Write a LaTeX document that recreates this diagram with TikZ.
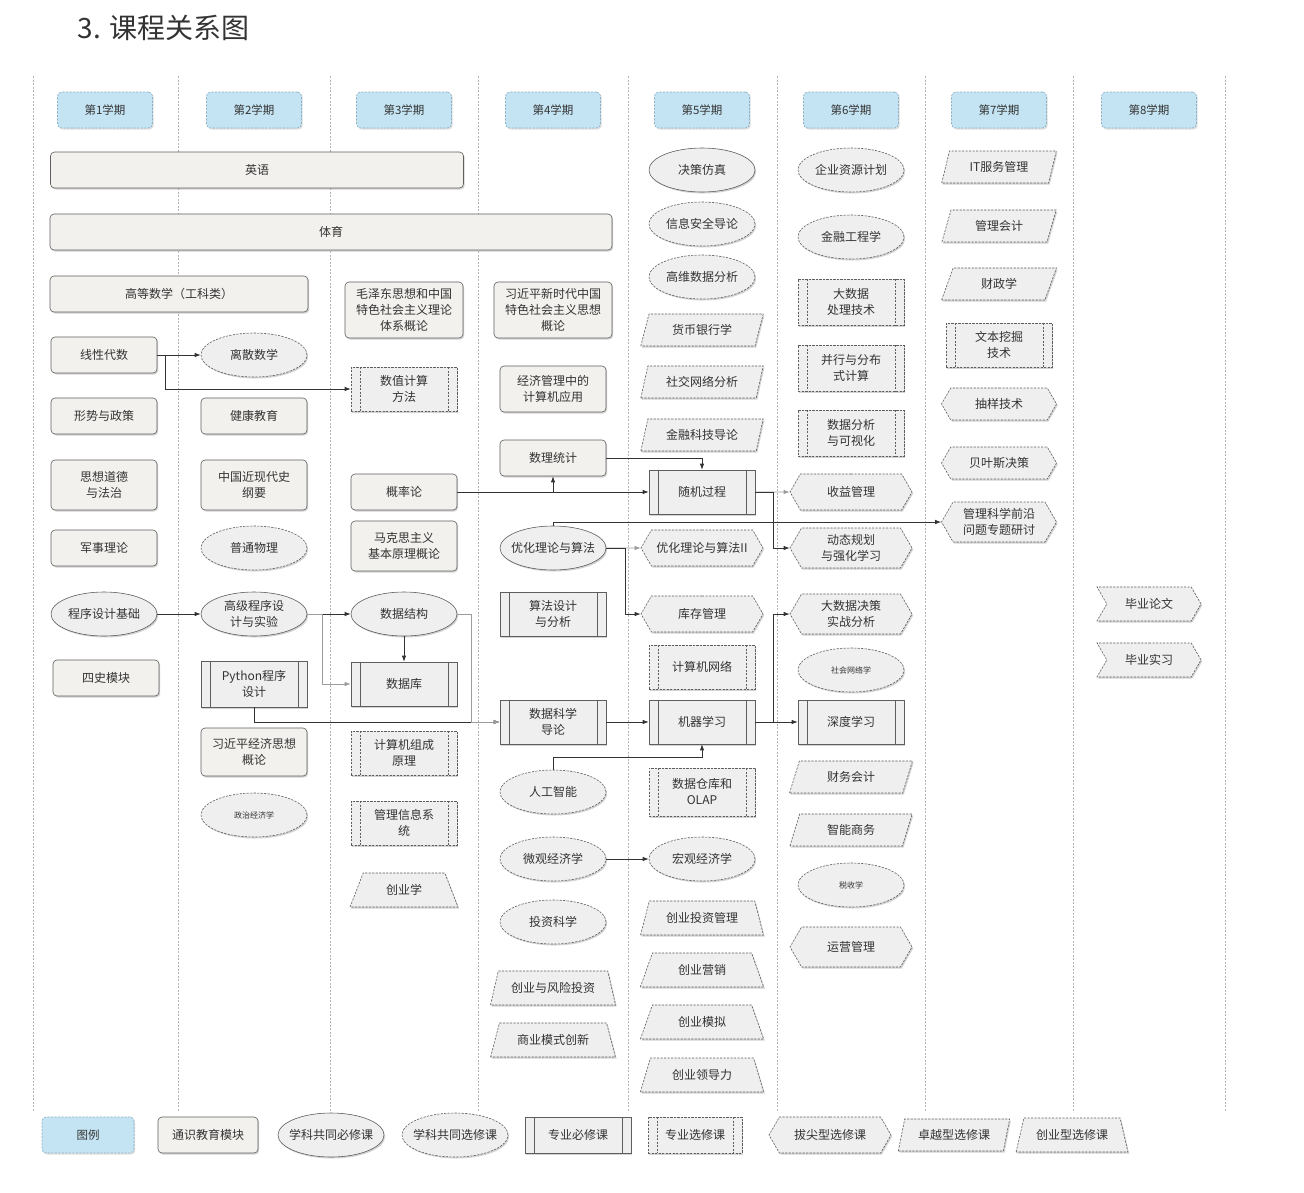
\documentclass[tikz,border=0pt]{standalone}
\usepackage{fontspec}
\setmainfont{Noto Sans CJK SC}
\usepackage{xcolor}
\usetikzlibrary{arrows.meta,shapes.geometric,shapes.symbols,shadows}
\definecolor{ink}{HTML}{333333}
\definecolor{edge}{HTML}{5E5E5E}
\definecolor{boxfill}{HTML}{EFEFEF}
\definecolor{warmfill}{HTML}{F3F1EE}
\definecolor{termblue}{HTML}{C4E4F3}
\definecolor{termedge}{HTML}{8CB0C3}
\definecolor{sepgray}{HTML}{B4B4B4}
\definecolor{softgray}{HTML}{9C9C9C}
\newcommand\boxfont{\fontsize{12}{16}\selectfont}
\newcommand\smallboxfont{\fontsize{8}{10}\selectfont}
\newcommand\headfont{\fontsize{11.5}{14}\selectfont}
\newcommand\titlefont{\fontsize{28}{32}\selectfont}
\newcommand\bars[1]{\draw[draw=edge, line width=0.6pt, #1]
  ([xshift=9pt]path picture bounding box.north west) -- ([xshift=9pt]path picture bounding box.south west)
  ([xshift=-9pt]path picture bounding box.north east) -- ([xshift=-9pt]path picture bounding box.south east);}
\tikzset{
  optline/.style={dash pattern=on 2.2pt off 1.3pt},
  base/.style={draw=edge, line width=0.6pt, fill=boxfill, font=\boxfont, text=ink, align=center,
    drop shadow={shadow xshift=1.2pt, shadow yshift=-1.5pt, fill=black!35}},
  general/.style={base, rounded corners=4pt, fill=warmfill, minimum width=106pt, minimum height=36pt, inner sep=2pt},
  discreq/.style={base, ellipse, minimum width=106pt, minimum height=44pt, inner xsep=-6pt, inner ysep=0pt},
  discopt/.style={discreq, optline},
  majreq/.style={base, rectangle, minimum width=106pt, minimum height=44pt, inner sep=2pt, path picture={\bars{solid}}},
  majopt/.style={majreq, optline, path picture={\bars{optline}}},
  topopt/.style={base, optline, signal, signal to=west and east, signal pointer angle=120,
    minimum width=122pt, minimum height=36pt, inner xsep=2pt, inner ysep=1pt},
  excopt/.style={base, optline, trapezium, trapezium left angle=70, trapezium right angle=110,
    trapezium stretches=true, minimum width=123pt, minimum height=32pt, inner sep=1pt},
  entopt/.style={base, optline, trapezium, trapezium angle=65, trapezium stretches=true,
    minimum width=108pt, minimum height=34pt, inner sep=1pt},
  thesis/.style={base, optline, signal, signal to=east, signal from=west, signal pointer angle=120,
    minimum width=104pt, minimum height=34pt},
  term/.style={rounded corners=4pt, fill=termblue, draw=termedge, optline, line width=0.6pt,
    minimum width=95pt, minimum height=36pt, font=\headfont, text=ink,
    drop shadow={shadow xshift=1.2pt, shadow yshift=-1.5pt, fill=black!25}},
  sepline/.style={draw=sepgray, dash pattern=on 2pt off 1.5pt, line width=0.6pt},
  link/.style={draw=ink, line width=0.8pt, ->},
  soft/.style={draw=softgray, line width=0.8pt, ->}
}
\begin{document}
\begin{tikzpicture}[x=1pt, y=-1pt, >={Latex[length=6pt,width=4.5pt]}]
\useasboundingbox (0,0) rectangle (1304,1192);
\node[anchor=west, font=\titlefont, text=ink] (title) at (74,28) {3. 课程关系图};
\foreach \x in {33,178,330,478,628,777,925,1073,1225}
  \draw[sepline] (\x,76) -- (\x,1112);
\foreach \n/\x in {1/105,2/254,3/404,4/553,5/702,6/851,7/999,8/1149}
  \node[term] (sem\n) at (\x,110) {第\n 学期};
% 1
\node[general, minimum width=413pt] (eng) at (257,170) {英语};
\node[general, minimum width=562pt] (pe) at (331,232) {体育};
\node[general, minimum width=258pt] (calc) at (179,294) {高等数学（工科类）};
\node[general] (linalg) at (104,355) {线性代数};
\node[general] (policy) at (104,416) {形势与政策};
\node[general, minimum height=50pt] (ethics) at (104,485) {思想道德\\与法治};
\node[general] (military) at (104,548) {军事理论};
\node[discreq] (progbase) at (104,614) {程序设计基础};
\node[general] (history4) at (106,678) {四史模块};
% 2
\node[discopt] (discrete) at (254,355) {离散数学};
\node[general] (health) at (254,416) {健康教育};
\node[general, minimum height=50pt] (modhist) at (254,485) {中国近现代史\\纲要};
\node[discopt] (physics) at (254,548) {普通物理};
\node[discreq] (advprog) at (254,614) {高级程序设\\计与实验};
\node[majreq, minimum height=46pt] (python) at (254,684) {Python程序\\设计};
\node[general, minimum height=48pt] (xiecon) at (254,752) {习近平经济思想\\概论};
\node[discopt, font=\smallboxfont] (poliecon) at (254,815) {政治经济学};
% 3
\node[general, minimum width=118pt, minimum height=56pt] (maoism) at (404,310) {毛泽东思想和中国\\特色社会主义理论\\体系概论};
\node[majopt] (numcomp) at (404,389) {数值计算\\方法};
\node[general] (prob) at (404,492) {概率论};
\node[general, minimum height=50pt] (marx) at (404,546) {马克思主义\\基本原理概论};
\node[discreq] (datastruct) at (404,614) {数据结构};
\node[majreq] (database) at (404,684) {数据库};
\node[majopt] (organ) at (404,753) {计算机组成\\原理};
\node[majopt] (mis) at (404,823) {管理信息系\\统};
\node[entopt] (startup) at (404,890) {创业学};
% 4
\node[general, minimum width=118pt, minimum height=56pt] (xithought) at (553,310) {习近平新时代中国\\特色社会主义思想\\概论};
\node[general, minimum height=46pt] (compapp) at (553,389) {经济管理中的\\计算机应用};
\node[general] (mstat) at (553,458) {数理统计};
\node[discreq] (opt) at (553,548) {优化理论与算法};
\node[majreq] (algo) at (553,614) {算法设计\\与分析};
\node[majreq] (dsintro) at (553,722) {数据科学\\导论};
\node[discopt] (ai) at (553,792) {人工智能};
\node[discopt] (micro) at (553,859) {微观经济学};
\node[discopt] (invest) at (553,922) {投资科学};
\node[entopt, minimum width=126pt] (venture) at (553,988) {创业与风险投资};
\node[entopt, minimum width=126pt] (bizmodel) at (553,1040) {商业模式创新};
% 5
\node[discreq] (decsim) at (702,170) {决策仿真};
\node[discopt] (infosec) at (702,224) {信息安全导论};
\node[discopt] (hidim) at (702,277) {高维数据分析};
\node[excopt] (banking) at (702,330) {货币银行学};
\node[excopt] (social) at (702,382) {社交网络分析};
\node[excopt] (fintech) at (702,435) {金融科技导论};
\node[majreq] (stoch) at (702,492) {随机过程};
\node[topopt] (opt2) at (702,548) {优化理论与算法II};
\node[topopt] (inventory) at (702,614) {库存管理};
\node[majopt] (network) at (702,667) {计算机网络};
\node[majreq] (ml) at (702,722) {机器学习};
\node[majopt, minimum height=48pt] (dwh) at (702,792) {数据仓库和\\OLAP};
\node[discopt] (macro) at (702,859) {宏观经济学};
\node[entopt, minimum width=124pt] (vcmgmt) at (702,918) {创业投资管理};
\node[entopt, minimum width=124pt] (entmkt) at (702,970) {创业营销};
\node[entopt, minimum width=124pt] (entsim) at (702,1022) {创业模拟};
\node[entopt, minimum width=124pt] (entlead) at (702,1075) {创业领导力};
% 6
\node[discopt] (erp) at (851,170) {企业资源计划};
\node[discopt] (fineng) at (851,237) {金融工程学};
\node[majopt, minimum height=46pt] (bigdata) at (851,302) {大数据\\处理技术};
\node[majopt, minimum height=46pt] (parallel) at (851,368) {并行与分布\\式计算};
\node[majopt, minimum height=46pt] (visual) at (851,433) {数据分析\\与可视化};
\node[topopt] (revenue) at (851,492) {收益管理};
\node[topopt, minimum height=40pt] (dynprog) at (851,548) {动态规划\\与强化学习};
\node[topopt, minimum height=40pt] (bigdec) at (851,614) {大数据决策\\实战分析};
\node[discopt, font=\smallboxfont] (socnet) at (851,670) {社会网络学};
\node[majreq] (deep) at (851,722) {深度学习};
\node[excopt] (finacc) at (851,777) {财务会计};
\node[excopt] (smartbiz) at (851,830) {智能商务};
\node[discopt, font=\smallboxfont] (tax) at (851,885) {税收学};
\node[topopt, minimum height=40pt] (operation) at (851,947) {运营管理};
% 7
\node[excopt, minimum width=115pt] (itsm) at (999,167) {IT服务管理};
\node[excopt, minimum width=115pt] (mgmtacc) at (999,226) {管理会计};
\node[excopt, minimum width=115pt] (pubfin) at (999,284) {财政学};
\node[majopt] (textmine) at (999,345) {文本挖掘\\技术};
\node[topopt, minimum width=115pt, minimum height=32pt] (sampling) at (999,404) {抽样技术};
\node[topopt, minimum width=115pt, minimum height=32pt] (bayes) at (999,463) {贝叶斯决策};
\node[topopt, minimum width=115pt, minimum height=40pt] (frontier) at (999,522) {管理科学前沿\\问题专题研讨};
% 8
\node[thesis] (thesis) at (1149,604) {毕业论文};
\node[thesis] (intern) at (1149,660) {毕业实习};
% legend
\node[term, minimum width=92pt] (key) at (88,1135) {图例};
\node[general, minimum width=100pt] (lgen) at (208,1135) {通识教育模块};
\node[discreq] (lreq) at (331,1135) {学科共同必修课};
\node[discopt] (lopt) at (455,1135) {学科共同选修课};
\node[majreq, minimum height=36pt] (lmreq) at (578,1135) {专业必修课};
\node[majopt, minimum width=94pt, minimum height=36pt] (lmopt) at (695,1135) {专业选修课};
\node[topopt] (ltop) at (830,1135) {拔尖型选修课};
\node[excopt, minimum width=112pt] (lexc) at (954,1135) {卓越型选修课};
\node[entopt, minimum width=112pt] (lent) at (1072,1135) {创业型选修课};
% links
\draw[link] (linalg) -- (discrete);
\draw[link] (linalg.east) -- ++(8,0) |- (numcomp.west);
\draw[link] (progbase) -- (advprog);
\draw[link] (advprog) -- (datastruct);
\draw[soft] (advprog.east) -- ++(15,0) |- (database.west);
\draw[link] (python.south) |- (dsintro.west);
\draw[link] (datastruct) -- (database);
\draw[soft] (datastruct.east) -- ++(14,0) |- (dsintro.west);
\draw[link] (prob) -- (stoch);
\draw[link] (prob.east -| mstat.south) -- (mstat.south);
\draw[link] (mstat.east) -| (stoch.north);
\draw[link] (opt.north) |- (frontier.west);
\draw[soft] (opt) -- (opt2);
\draw[link] (opt.east) -- ++(19,0) |- (inventory.west);
\draw[link] (dsintro) -- (ml);
\draw[link] (ai.north) -- ++(0,-12) -| (ml.south);
\draw[soft] (stoch) -- (revenue);
\draw[link] (stoch.east) -- ++(18,0) |- (dynprog.west);
\draw[link] (ml) -- (deep);
\draw[link] (ml.east) -- ++(18,0) |- (bigdec.west);
\draw[link] (micro) -- (macro);
\end{tikzpicture}
\end{document}
